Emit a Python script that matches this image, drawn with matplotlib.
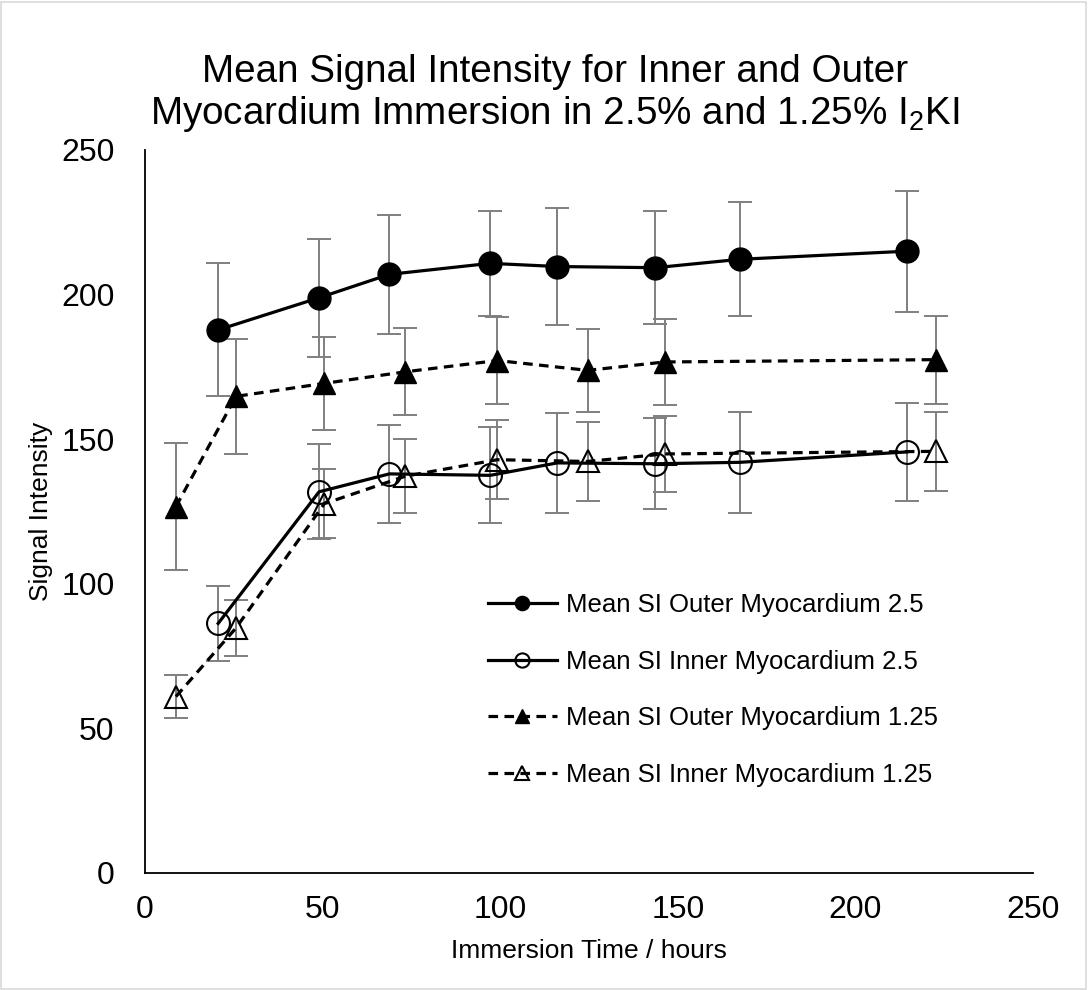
import matplotlib
matplotlib.use("Agg")
import matplotlib.pyplot as plt
from matplotlib.patches import Rectangle

plt.rcParams['font.family'] = ['Liberation Sans', 'DejaVu Sans']
plt.rcParams['mathtext.fontset'] = 'custom'
plt.rcParams['mathtext.rm'] = 'Liberation Sans'

# immersion times (hours)
x_25 = [20.6, 49.0, 68.8, 97.2, 116.1, 143.7, 167.5, 214.5]
x_125 = [8.7, 25.6, 50.5, 73.3, 99.2, 124.6, 146.3, 222.7]

# mean signal intensity and error
outer_25 = [187.8, 198.9, 207.0, 210.8, 209.7, 209.3, 212.2, 215.0]
outer_25_err = [23.0, 20.4, 20.5, 18.2, 20.1, 19.5, 19.7, 20.9]
inner_25 = [86.3, 131.8, 138.0, 137.5, 141.8, 141.5, 142.0, 145.6]
inner_25_err = [12.9, 16.4, 17.0, 16.6, 17.3, 15.8, 17.5, 17.0]
outer_125 = [126.7, 164.8, 169.3, 173.3, 177.2, 173.8, 176.7, 177.5]
outer_125_err = [21.9, 19.9, 16.0, 15.0, 15.0, 14.4, 14.8, 15.2]
inner_125 = [61.0, 84.7, 127.7, 137.2, 142.9, 142.3, 144.9, 145.8]
inner_125_err = [7.4, 9.7, 12.0, 12.8, 13.7, 13.6, 13.1, 13.7]

labels = ['Mean SI Outer Myocardium 2.5', 'Mean SI Inner Myocardium 2.5',
          'Mean SI Outer Myocardium 1.25', 'Mean SI Inner Myocardium 1.25']

fig = plt.figure(figsize=(10.88, 9.9), dpi=100)
ax = fig.add_axes([0.1333, 0.1182, 0.8161, 0.7303])

err_kw = dict(fmt='none', ecolor='#7f7f7f', elinewidth=1.4, capsize=8.5, capthick=1.4, zorder=1)
ax.errorbar(x_25, outer_25, yerr=outer_25_err, **err_kw)
ax.errorbar(x_25, inner_25, yerr=inner_25_err, **err_kw)
ax.errorbar(x_125, outer_125, yerr=outer_125_err, **err_kw)
ax.errorbar(x_125, inner_125, yerr=inner_125_err, **err_kw)

dash = (0, (3, 2))
ax.plot(x_25, outer_25, '-', color='black', lw=2.3, marker='o', ms=16.5,
        mfc='black', mec='black', label=labels[0], zorder=3)
ax.plot(x_25, inner_25, '-', color='black', lw=2.3, marker='o', ms=16.5,
        mfc='none', mec='black', mew=1.5, label=labels[1], zorder=3)
ax.plot(x_125, outer_125, linestyle=dash, color='black', lw=2.3, marker='^', ms=16,
        mfc='black', mec='black', label=labels[2], zorder=3)
ax.plot(x_125, inner_125, linestyle=dash, color='black', lw=2.3, marker='^', ms=16,
        mfc='none', mec='black', mew=1.5, label=labels[3], zorder=3)

ax.set_xlim(0, 250)
ax.set_ylim(0, 250)
ax.set_xticks([0, 50, 100, 150, 200, 250])
ax.set_yticks([0, 50, 100, 150, 200, 250])
ax.tick_params(axis='both', length=0, labelsize=23)
ax.tick_params(axis='y', pad=22)
ax.tick_params(axis='x', pad=16)
for s in ['top', 'right']:
    ax.spines[s].set_visible(False)
for s in ['left', 'bottom']:
    ax.spines[s].set_linewidth(1.3)

ax.set_xlabel('Immersion Time / hours', fontsize=19, labelpad=10)
ax.set_ylabel('Signal Intensity', fontsize=19, labelpad=6)

fig.text(0.51, 0.905, 'Mean Signal Intensity for Inner and Outer\n'
         r'Myocardium Immersion in 2.5% and 1.25% I$_{\mathrm{2}}$KI',
         ha='center', va='center', fontsize=27.8, linespacing=1.12)

leg = ax.legend(loc='upper left', bbox_to_anchor=(0.386, 0.387), frameon=False,
                fontsize=18.5, markerscale=0.62, handlelength=2.7,
                handletextpad=0.35, labelspacing=1.27, borderpad=0, borderaxespad=0)

fig.patches.append(Rectangle((0.001, 0.001), 0.997, 0.997, transform=fig.transFigure,
                             fill=False, edgecolor='#d9d9d9', lw=1.2))

fig.savefig('out.png', dpi=100)
